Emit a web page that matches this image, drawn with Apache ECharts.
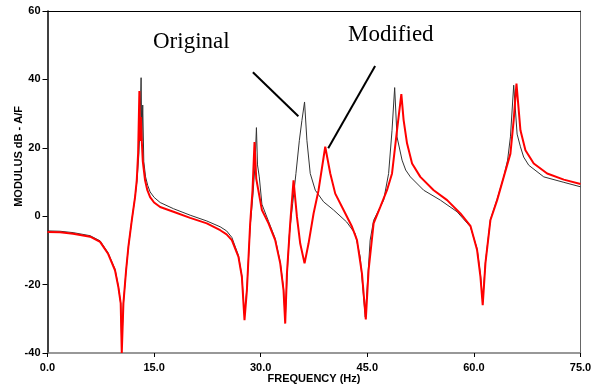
<!DOCTYPE html>
<html>
<head>
<meta charset="utf-8">
<script src="https://cdn.jsdelivr.net/npm/echarts@6/dist/echarts.min.js"></script>
<style>
  html, body { margin: 0; padding: 0; background: #fff; }
  #chart { width: 606px; height: 385px; }
</style>
</head>
<body>
<div id="chart"></div>
<script>
// ---- data ----
const xTicks = [0, 15, 30, 45, 60, 75];
const yTicks = [-40, -20, 0, 20, 40, 60];

// Original structure (thin black)
const freqOriginal = [0, 1.76, 3.6, 6.0, 7.4, 8.5, 9.5, 9.97, 10.3, 10.45, 10.68, 11.06, 11.38, 11.86, 12.32, 12.6, 12.85, 13.0, 13.17, 13.27, 13.4, 13.55, 13.8, 14.1, 14.44, 15.0, 15.85, 17.72, 20.07, 22.42, 24.3, 25.2, 25.94, 26.87, 27.35, 27.72, 28.06, 28.52, 28.9, 29.2, 29.4, 29.55, 29.8, 30.17, 31.1, 32.04, 32.75, 33.21, 33.45, 33.7, 34.0, 34.5, 34.96, 35.44, 35.8, 36.17, 36.5, 36.97, 37.68, 38.85, 40.26, 42.1, 43.3, 44.0, 44.72, 45.4, 45.89, 47.3, 48.0, 48.48, 48.85, 49.18, 49.89, 50.4, 51.06, 52.93, 55.28, 57.63, 59.51, 60.45, 60.92, 61.24, 61.62, 62.32, 63.27, 64.2, 64.74, 65.14, 65.6, 66.08, 66.55, 67.0, 67.72, 69.83, 72.65, 75];
const dbOriginal = [-4.3, -4.4, -4.8, -5.7, -7.2, -10.6, -15.5, -20.5, -25.5, -38, -25.5, -15.8, -9.0, -1.2, 5.6, 10.5, 18, 25, 40.5, 22, 32.5, 16, 11.5, 9.0, 7.1, 5.5, 4.0, 2.2, 0.3, -1.4, -3.1, -4.3, -6.2, -11.5, -17.5, -29, -21, -3, 6, 15, 25.9, 15, 11.5, 3.5, -1.5, -6.5, -13.5, -21, -30.5, -18, -6.0, 3.7, 12.5, 22.2, 28, 33.4, 22.2, 12.5, 7.6, 4.2, 1.8, -1.7, -5.1, -11.9, -29.5, -7.0, -1.2, 4.7, 12.5, 25.1, 37.6, 23.2, 16.4, 13.5, 11.5, 7.6, 4.7, 1.3, -3.1, -9.5, -17, -25, -13.5, -1.0, 5, 11.5, 16.4, 23.2, 38.3, 24, 20.3, 17.3, 14.9, 11.5, 9.9, 8.6];

// Modified structure (red)
const freqModified = [0, 1.76, 3.6, 6.0, 7.4, 8.5, 9.5, 9.97, 10.3, 10.45, 10.68, 11.06, 11.38, 11.86, 12.32, 12.56, 12.75, 12.93, 13.03, 13.13, 13.27, 13.41, 13.73, 14.05, 14.44, 15.0, 15.85, 17.72, 20.07, 22.42, 24.3, 25.2, 25.94, 26.87, 27.35, 27.72, 28.06, 28.52, 28.85, 29.13, 29.37, 30.17, 31.1, 32.04, 32.75, 33.21, 33.45, 33.69, 34.15, 34.62, 35.1, 35.56, 36.17, 36.73, 37.44, 38.14, 39.08, 39.79, 40.49, 41.66, 42.85, 43.55, 44.25, 44.79, 45.18, 45.89, 46.83, 47.77, 48.48, 49.18, 49.79, 50.11, 50.59, 51.3, 52.46, 54.34, 56.23, 58.1, 59.51, 60.45, 60.92, 61.24, 61.62, 62.32, 63.27, 64.2, 65.14, 65.6, 65.99, 66.55, 67.25, 68.42, 70.31, 72.65, 75];
const dbModified = [-4.6, -4.7, -5.1, -6.0, -7.5, -10.9, -15.8, -20.7, -25.5, -40, -25.5, -15.8, -9.0, -1.2, 5.6, 10.5, 18.3, 36.6, 22, 29, 22, 16, 10.5, 7.6, 5.6, 4.0, 2.7, 1.3, -0.5, -2.1, -4.1, -5.3, -7.0, -11.9, -17.7, -30.4, -21.6, -2.1, 7.6, 21.7, 11, 1.8, -2.1, -7.0, -13.8, -21.6, -31.4, -16.8, -2.1, 10.5, -0.2, -8.0, -13.8, -8.0, 0.8, 7.6, 20.3, 12.5, 6.6, 1.8, -3.1, -7.0, -16.8, -30.2, -15.8, -2.1, 2.7, 7.6, 12.5, 25.1, 35.7, 28.1, 21.3, 15.4, 11.5, 7.6, 4.7, 0.8, -2.8, -9.9, -17.7, -26.0, -13.8, -1.2, 4.7, 11.5, 18.3, 28.1, 38.8, 25.1, 19.3, 15.4, 12.5, 10.7, 9.4];

// leader lines for the two text labels, in data units
const originalLeader = [[28.9, 42.1], [35.3, 29.2]];
const modifiedLeader = [[46.1, 43.9], [39.5, 19.9]];

const zip = (xs, ys) => xs.map((x, i) => [x, ys[i]]);

const chart = echarts.init(document.getElementById('chart'), null, { renderer: 'canvas' });

const labelFont = { color: '#000', fontSize: 11, fontWeight: 'bold', fontFamily: 'Liberation Sans, Arial, sans-serif' };
const serifFont = '23px "Liberation Serif", "Times New Roman", serif';

chart.setOption({
    backgroundColor: '#fff',
    animation: false,
    grid: { left: 47.5, right: 25.5, top: 11, bottom: 32, containLabel: false, outerBoundsMode: 'none' },
    xAxis: [{
        type: 'value',
        position: 'bottom',
        min: xTicks[0],
        max: xTicks[xTicks.length - 1],
        interval: 15,
        name: 'FREQUENCY (Hz)',
        nameLocation: 'middle',
        nameGap: 20,
        nameMoveOverlap: false,
        nameTextStyle: Object.assign({ verticalAlign: 'top', lineHeight: 11 }, labelFont),
        axisLine: { onZero: false, lineStyle: { color: '#777', width: 1.5 } },
        axisTick: { show: true, inside: false, length: 4, lineStyle: { color: '#000' } },
        axisLabel: Object.assign({ margin: 9, verticalAlign: 'top', lineHeight: 11 }, labelFont, { formatter: v => v.toFixed(1) }),
        splitLine: { show: false }
    }, {
        type: 'value',
        position: 'top',
        min: xTicks[0],
        max: xTicks[xTicks.length - 1],
        axisLine: { onZero: false, lineStyle: { color: '#000', width: 1 } },
        axisTick: { show: false },
        axisLabel: { show: false },
        splitLine: { show: false }
    }],
    yAxis: [{
        type: 'value',
        position: 'left',
        min: yTicks[0],
        max: yTicks[yTicks.length - 1],
        interval: 20,
        axisLine: { show: true, onZero: false, lineStyle: { color: '#000', width: 1.5 } },
        axisTick: { show: true, inside: false, length: 5, lineStyle: { color: '#000' } },
        axisLabel: Object.assign({ margin: 7 }, labelFont),
        splitLine: { show: false }
    }, {
        type: 'value',
        position: 'right',
        min: yTicks[0],
        max: yTicks[yTicks.length - 1],
        axisLine: { show: true, onZero: false, lineStyle: { color: '#666', width: 1 } },
        axisTick: { show: false },
        axisLabel: { show: false },
        splitLine: { show: false }
    }],
    graphic: [{
        type: 'text',
        left: 13,
        top: 106,
        rotation: Math.PI / 2,
        originX: 0, originY: 0,
        style: { text: 'MODULUS dB - A/F', fill: '#000', font: 'bold 11px "Liberation Sans Narrow", "Liberation Sans", Arial, sans-serif' }
    }, {
        type: 'text',
        left: 153,
        top: 30,
        style: { text: 'Original', fill: '#000', font: serifFont }
    }, {
        type: 'text',
        left: 348,
        top: 23,
        style: { text: 'Modified', fill: '#000', font: serifFont }
    }],
    series: [{
        name: 'Original',
        type: 'line',
        data: zip(freqOriginal, dbOriginal),
        showSymbol: false,
        lineStyle: { color: '#333', width: 1 },
        z: 2,
        markLine: {
            silent: true,
            symbol: ['none', 'none'],
            label: { show: false },
            lineStyle: { color: '#000', width: 2, type: 'solid' },
            data: [
                [{ coord: originalLeader[0] }, { coord: originalLeader[1] }],
                [{ coord: modifiedLeader[0] }, { coord: modifiedLeader[1] }]
            ]
        }
    }, {
        name: 'Modified',
        type: 'line',
        data: zip(freqModified, dbModified),
        showSymbol: false,
        lineStyle: { color: '#ff0000', width: 2 },
        z: 3
    }]
});
</script>
</body>
</html>
